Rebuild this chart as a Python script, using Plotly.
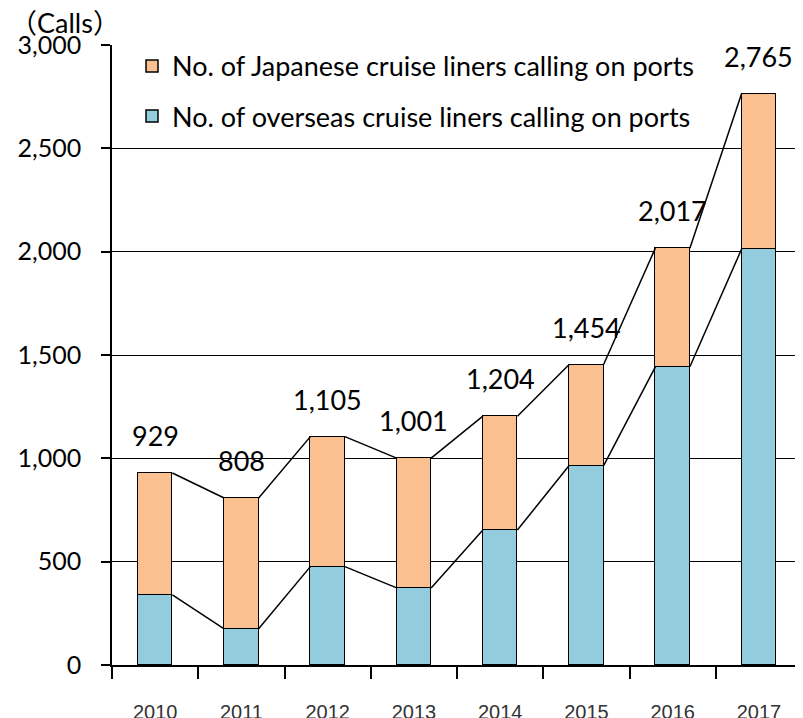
import plotly.graph_objects as go

years = ["2010", "2011", "2012", "2013", "2014", "2015", "2016", "2017"]
overseas = [339, 175, 476, 373, 653, 965, 1443, 2013]
totals = [929, 808, 1105, 1001, 1204, 1454, 2017, 2765]
japanese = [t - o for t, o in zip(totals, overseas)]
total_labels = ["929", "808", "1,105", "1,001", "1,204", "1,454", "2,017", "2,765"]
y_ticks = [0, 500, 1000, 1500, 2000, 2500, 3000]
y_tick_text = ["0", "500", "1,000", "1,500", "2,000", "2,500", "3,000"]

BLUE = "#93CDDD"
ORANGE = "#FAC090"
BW = 0.4
FONT = "Lato, Noto Sans, sans-serif"
xs = list(range(len(years)))

fig = go.Figure()
fig.add_trace(go.Bar(
    x=xs, y=overseas, width=BW, name="No. of overseas cruise liners calling on ports",
    marker=dict(color=BLUE, line=dict(color="black", width=1.5)),
    legendgroup="b", legendrank=2,
))
fig.add_trace(go.Bar(
    x=xs, y=japanese, width=BW, name="No. of Japanese cruise liners calling on ports",
    marker=dict(color=ORANGE, line=dict(color="black", width=1.5)),
    legendgroup="a", legendrank=1,
))

# series connector lines (bar edge to next bar edge)
for series in (overseas, totals):
    lx, ly = [], []
    for i in range(len(xs) - 1):
        lx += [xs[i] + BW / 2, xs[i + 1] - BW / 2, None]
        ly += [series[i], series[i + 1], None]
    fig.add_trace(go.Scatter(x=lx, y=ly, mode="lines", line=dict(color="black", width=1.5),
                             showlegend=False, hoverinfo="skip"))

for x, t, lab in zip(xs, totals, total_labels):
    fig.add_annotation(x=x, y=t, text=lab, showarrow=False, yanchor="bottom", yshift=19,
                       font=dict(size=27, color="black", family=FONT))

fig.add_annotation(x=-0.068, y=1.036, xref="paper", yref="paper", text="（Calls）",
                   showarrow=False, xanchor="center", yanchor="middle",
                   font=dict(size=27, color="black", family="Lato, Noto Sans CJK JP, sans-serif"))

fig.update_layout(
    width=795, height=710,
    margin=dict(l=104, r=1, t=37, b=53),
    barmode="stack",
    bargap=0,
    plot_bgcolor="white", paper_bgcolor="white",
    font=dict(family=FONT, color="black"),
    legend=dict(x=0.029, y=1.005, xanchor="left", yanchor="top",
                font=dict(size=27, color="black"), traceorder="grouped",
                tracegroupgap=12, bgcolor="rgba(0,0,0,0)", itemwidth=30),
    showlegend=True,
)

fig.update_xaxes(
    range=[-0.5, 7.5], tickvals=xs, ticktext=years, ticks="",
    showgrid=False, zeroline=False, showline=True, linecolor="black", linewidth=1.5,
    tickfont=dict(size=20, color="#333", family="Liberation Sans, Arial, sans-serif"),
    ticklabelstandoff=28, automargin=False,
    minor=dict(tickvals=[i - 0.5 for i in range(len(years) + 1)], ticks="outside",
               ticklen=12, tickcolor="black", tickwidth=1.5, showgrid=False),
)
fig.update_yaxes(
    range=[0, 3000], tickvals=y_ticks, ticktext=y_tick_text,
    ticks="outside", ticklen=9, tickcolor="black", tickwidth=1.5,
    showgrid=True, gridcolor="black", gridwidth=1.2,
    zeroline=False, showline=True, linecolor="black", linewidth=1.5,
    tickfont=dict(size=25, color="black"), ticklabelstandoff=15, automargin=False,
)

fig.write_html("out.html")
